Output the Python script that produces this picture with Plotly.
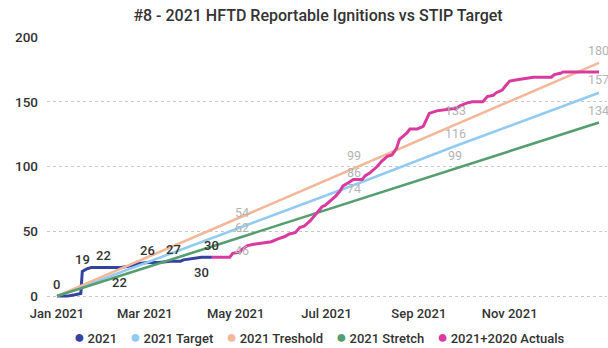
import plotly.graph_objects as go

# ---- 2021 reportable ignitions (cumulative count) ----
dates_2021 = ["2021-01-01", "2021-01-08", "2021-01-13", "2021-01-17", "2021-01-18",
              "2021-01-21", "2021-01-24", "2021-02-01", "2021-02-12", "2021-02-18",
              "2021-02-24", "2021-03-03", "2021-03-10", "2021-03-20", "2021-03-25",
              "2021-03-27", "2021-04-03", "2021-04-06", "2021-04-08", "2021-04-15"]
vals_2021 = [0, 0, 1, 2, 19, 21, 22, 22, 22, 23, 25, 26, 26, 27, 27, 28, 29, 30, 30, 30]
# indices of labelled points and whether the label sits above (1) or below (-1)
labels_2021 = [(0, 1), (4, 1), (7, 1), (8, -1), (11, 1), (13, 1), (18, -1), (19, 1)]

# ---- 2021+2020 actuals (cumulative count) ----
dates_act = ["2021-04-15", "2021-04-27", "2021-04-29", "2021-05-04", "2021-05-05",
             "2021-05-09", "2021-05-13", "2021-05-19", "2021-05-25", "2021-05-29",
             "2021-06-03", "2021-06-06", "2021-06-10", "2021-06-13", "2021-06-16",
             "2021-06-20", "2021-06-23", "2021-06-25", "2021-06-28", "2021-06-30",
             "2021-07-03", "2021-07-07", "2021-07-10", "2021-07-12", "2021-07-15",
             "2021-07-19", "2021-07-25", "2021-07-27", "2021-07-30", "2021-08-04",
             "2021-08-07", "2021-08-11", "2021-08-14", "2021-08-17", "2021-08-19",
             "2021-08-21", "2021-08-24", "2021-08-26", "2021-08-31", "2021-09-04",
             "2021-09-06", "2021-09-08", "2021-09-13", "2021-09-20", "2021-09-26",
             "2021-09-29", "2021-10-03", "2021-10-07", "2021-10-14", "2021-10-17",
             "2021-10-21", "2021-10-23", "2021-10-27", "2021-10-29", "2021-11-01",
             "2021-11-06", "2021-11-11", "2021-11-17", "2021-11-29", "2021-12-01",
             "2021-12-05", "2021-12-07", "2021-12-31"]
vals_act = [30, 30, 33, 34, 36, 39, 40, 41, 42, 44,
            46, 48, 49, 53, 54, 58, 62, 65, 69, 70,
            73, 77, 81, 85, 87, 90, 90, 93, 95, 100,
            104, 108, 109, 114, 121, 123, 126, 129, 129, 131,
            136, 141, 143, 144, 145, 147, 149, 150, 150, 154,
            155, 157, 159, 162, 166, 167, 168, 169, 169, 171,
            172, 173, 173]

# ---- STIP trend lines ----
trend_dates = ["2021-01-01", "2021-05-06", "2021-07-20", "2021-09-26", "2021-12-31"]
target = [0, 54, 86, 116, 157]
threshold = [0, 62, 99, 133, 180]
stretch = [0, 46, 74, 99, 134]
# vertical offsets (px) of the value labels at each trend point
target_shift = [None, 14, 12, 12, 13]
threshold_shift = [None, -12, 12, 13, 12]
stretch_shift = [None, -14, 12, 12, 12]

# ---- axis ----
tick_dates = ["2021-01-01", "2021-03-01", "2021-05-01", "2021-07-01", "2021-09-01", "2021-11-01"]
tick_text = ["Jan 2021", "Mar 2021", "May 2021", "Jul 2021", "Sep 2021", "Nov 2021"]
y_ticks = [0, 50, 100, 150, 200]

names = ["2021", "2021 Target", "2021 Treshold", "2021 Stretch", "2021+2020 Actuals"]
colors = ["#3442A0", "#92CBF2", "#F3B899", "#559E70", "#DA3A9E"]

FONT = "Roboto"

fig = go.Figure()
fig.add_trace(go.Scatter(x=dates_2021, y=vals_2021, mode="lines", name=names[0],
                         line=dict(color=colors[0], width=3), showlegend=False))
fig.add_trace(go.Scatter(x=trend_dates, y=target, mode="lines", name=names[1],
                         line=dict(color=colors[1], width=2.6), showlegend=False))
fig.add_trace(go.Scatter(x=trend_dates, y=threshold, mode="lines", name=names[2],
                         line=dict(color=colors[2], width=2.6), showlegend=False))
fig.add_trace(go.Scatter(x=trend_dates, y=stretch, mode="lines", name=names[3],
                         line=dict(color=colors[3], width=2.6), showlegend=False))
fig.add_trace(go.Scatter(x=dates_act, y=vals_act, mode="lines", name=names[4],
                         line=dict(color=colors[4], width=3), showlegend=False))

annotations = []
# dark labels on the 2021 series
for idx, side in labels_2021:
    annotations.append(dict(x=dates_2021[idx], y=vals_2021[idx], xref="x", yref="y",
                            text=str(vals_2021[idx]), showarrow=False,
                            yshift=12 if side > 0 else -15,
                            font=dict(family=FONT, size=13, color="#333333", weight=500)))
# grey labels on the trend lines
for series, shifts in ((threshold, threshold_shift), (target, target_shift), (stretch, stretch_shift)):
    for d, v, s in zip(trend_dates, series, shifts):
        if s is None:
            continue
        annotations.append(dict(x=d, y=v, xref="x", yref="y", text=str(v), showarrow=False,
                                yshift=s, xshift=-1,
                                font=dict(family=FONT, size=12.5, color="#B4B4B4")))

# legend row: coloured dot followed by series name
legend_parts = []
for n, c in zip(names, colors):
    legend_parts.append('<span style="color:%s;font-size:18px">\u25CF</span>\u2009%s' % (c, n))
annotations.append(dict(x=0.486, y=-0.137, xref="paper", yref="paper", xanchor="center",
                        yanchor="middle", showarrow=False,
                        text="\u00a0\u00a0\u00a0\u00a0".join(legend_parts),
                        font=dict(family=FONT, size=13, color="#333333", weight=500)))

fig.update_layout(
    width=608, height=348,
    margin=dict(l=47, r=1, t=37, b=48),
    paper_bgcolor="white", plot_bgcolor="white",
    title=dict(text="#8 - 2021 HFTD Reportable Ignitions vs STIP Target",
               x=318 / 608, xref="container", xanchor="center",
               y=1 - 15 / 348, yref="container", yanchor="middle",
               font=dict(family=FONT, size=16, color="#333333", weight=500)),
    xaxis=dict(type="date", range=["2020-12-25 07:00", "2022-01-05 09:00"],
               tickvals=tick_dates, ticktext=tick_text, showgrid=False,
               showline=False, zeroline=False, ticks="", ticklabelstandoff=4,
               tickfont=dict(family=FONT, size=13, color="#333333", weight=500)),
    yaxis=dict(range=[-3, 200], tickvals=y_ticks, showgrid=True, gridcolor="#C8C8C8",
               griddash="dot", gridwidth=1, zeroline=False, showline=False, ticks="",
               ticklabelstandoff=8,
               tickfont=dict(family=FONT, size=13.5, color="#333333", weight=500)),
    annotations=annotations,
    showlegend=False,
)

fig.write_html("out.html")
